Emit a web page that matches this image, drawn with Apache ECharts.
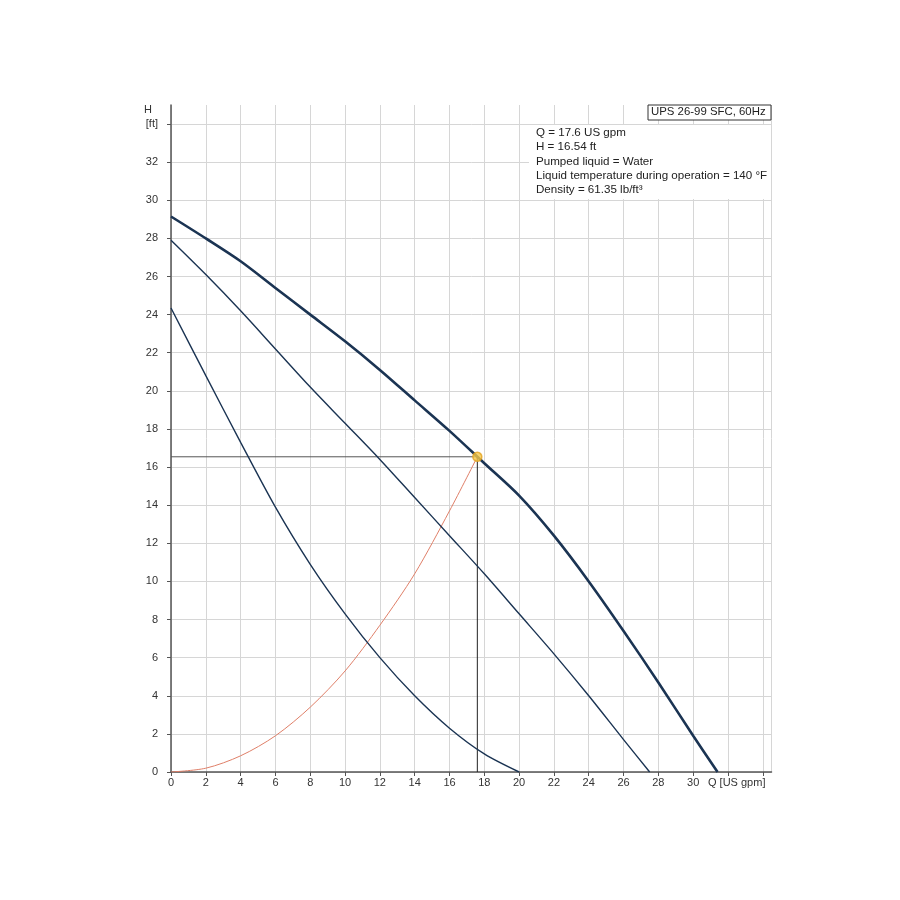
<!DOCTYPE html>
<html>
<head>
<meta charset="utf-8">
<script src="https://cdn.jsdelivr.net/npm/echarts@6/dist/echarts.min.js"></script>
<style>
  html, body { margin: 0; padding: 0; background: #fff; }
  #chart { width: 900px; height: 900px; }
</style>
</head>
<body>
<div id="chart"></div>
<script>
// pump curves (Q in US gpm, H in ft)
const qMax = [0, 2, 4, 6, 8, 10, 12, 14, 16, 18, 20, 22, 24, 26, 28, 30, 31.4];
const hMax = [29.15, 28.0, 26.8, 25.4, 24.0, 22.6, 21.1, 19.5, 17.9, 16.2, 14.5, 12.4, 10.0, 7.4, 4.7, 1.9, 0];
const qMid = [0, 2, 4, 6, 8, 10, 12, 14, 16, 18, 20, 22, 24, 26, 27.5];
const hMid = [27.9, 26.1, 24.2, 22.2, 20.2, 18.3, 16.4, 14.4, 12.4, 10.4, 8.3, 6.2, 4.0, 1.7, 0];
const qMin = [0, 2, 4, 6, 8, 10, 12, 14, 16, 18, 20];
const hMin = [24.35, 20.8, 17.3, 13.9, 10.9, 8.3, 6.0, 4.0, 2.3, 0.95, 0];
// system curve
const qSys = [0, 2, 4, 6, 8, 10, 12, 14, 16, 17.6];
const hSys = [0, 0.2, 0.85, 1.9, 3.4, 5.3, 7.7, 10.4, 13.7, 16.54];
// duty point
const opQ = 17.6;
const opH = 16.54;

const title = 'UPS 26-99 SFC, 60Hz';
const infoLines = [
  'Q = 17.6 US gpm',
  'H = 16.54 ft',
  'Pumped liquid = Water',
  'Liquid temperature during operation = 140 °F',
  'Density = 61.35 lb/ft³'
];

const font = '"Liberation Sans", Arial, sans-serif';
const curveColor = '#1b3453';
const pairs = (xs, ys) => xs.map((x, i) => [x, ys[i]]);

const chart = echarts.init(document.getElementById('chart'));

const infoText = infoLines.map((t, i) => ({
  type: 'text', left: 536, top: 127 + i * 14.2, z: 101,
  style: { text: t, font: '11.6px ' + font, fill: '#222' }
}));

chart.setOption({
  animation: false,
  grid: { left: 171, right: 128.5, top: 105, bottom: 128, containLabel: false },
  xAxis: {
    type: 'value', min: 0, max: 34.5, interval: 2,
    axisLine: { lineStyle: { color: '#555', width: 1.5 } },
    axisTick: { show: true, length: 4, lineStyle: { color: '#555' } },
    axisLabel: {
      margin: 5, color: '#333', fontFamily: font, fontSize: 11,
      showMaxLabel: false,
      formatter: v => (v > 30 ? '' : v)
    },
    splitLine: { show: true, lineStyle: { color: '#d6d6d6', width: 1 } }
  },
  yAxis: {
    type: 'value', min: 0, max: 35, interval: 2,
    axisLine: { show: true, lineStyle: { color: '#555', width: 1.5 } },
    axisTick: { show: true, length: 4, lineStyle: { color: '#555' } },
    axisLabel: {
      margin: 13, color: '#333', fontFamily: font, fontSize: 11,
      showMaxLabel: false,
      formatter: v => (v === 34 ? '[ft]' : v > 34 ? '' : v)
    },
    splitLine: { show: true, showMaxLine: false, lineStyle: { color: '#d6d6d6', width: 1 } }
  },
  series: [
    {
      type: 'line', data: pairs(qSys, hSys), smooth: 0.3,
      showSymbol: false, lineStyle: { color: '#df7f68', width: 1 }, z: 3
    },
    {
      type: 'line', data: pairs(qMin, hMin), smooth: 0.3,
      showSymbol: false, lineStyle: { color: curveColor, width: 1.4 }, z: 4
    },
    {
      type: 'line', data: pairs(qMid, hMid), smooth: 0.3,
      showSymbol: false, lineStyle: { color: curveColor, width: 1.4 }, z: 4
    },
    {
      type: 'line', data: pairs(qMax, hMax), smooth: 0.3,
      showSymbol: false, lineStyle: { color: curveColor, width: 2.6 }, z: 5
    },
    {
      // horizontal drop line to the H axis
      type: 'line', data: [[0, opH], [opQ, opH]], showSymbol: false,
      lineStyle: { color: '#555', width: 1 }, z: 3
    },
    {
      // vertical drop line to the Q axis
      type: 'line', data: [[opQ, opH], [opQ, 0]], showSymbol: false,
      lineStyle: { color: '#222', width: 1 }, z: 3
    },
    {
      type: 'scatter', data: [[opQ, opH]], symbolSize: 9,
      itemStyle: { color: '#f6c94a', borderColor: '#e3a21f', borderWidth: 1.5 }, z: 6
    }
  ],
  graphic: [
    {
      type: 'text', left: 144, top: 104,
      style: { text: 'H', font: '11px ' + font, fill: '#333' }
    },
    {
      type: 'text', left: 708, top: 777,
      style: { text: 'Q [US gpm]', font: '11px ' + font, fill: '#333' }
    },
    {
      type: 'rect', z: 100,
      shape: { x: 529, y: 125, width: 242, height: 74 },
      style: { fill: '#fff' }
    },
    {
      type: 'rect', z: 100,
      shape: { x: 648, y: 105, width: 123, height: 15 },
      style: { fill: '#fff', stroke: '#333', lineWidth: 1 }
    },
    {
      type: 'text', left: 651, top: 106.5, z: 101,
      style: { text: title, font: '11.4px ' + font, fill: '#222' }
    },
    ...infoText
  ]
});
</script>
</body>
</html>
